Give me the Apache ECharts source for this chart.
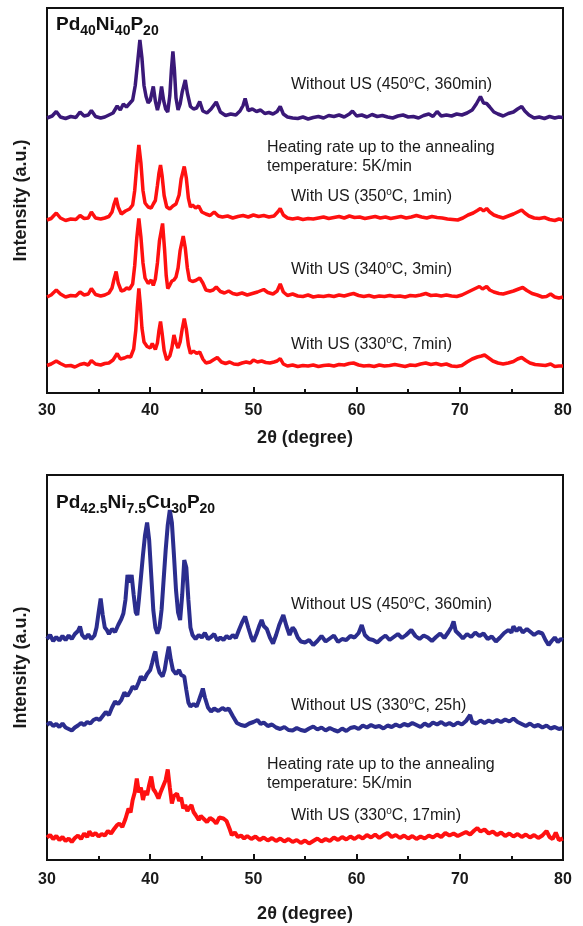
<!DOCTYPE html>
<html>
<head>
<meta charset="utf-8">
<script src="https://cdn.jsdelivr.net/npm/echarts@6/dist/echarts.min.js"></script>
<style>
  html, body { margin: 0; padding: 0; background: #fff; }
  #chart { width: 583px; height: 926px; }
</style>
</head>
<body>
<div id="chart"></div>
<script>
// XRD patterns, 2theta in degree, intensity in a.u. (curves offset as drawn)

// top panel: Pd40Ni40P20
var topNoUS450 = [[30.0,55.0],[30.5,55.4],[30.9,56.3],[31.3,55.2],[31.8,54.9],[32.3,55.3],[32.8,55.1],[33.2,56.2],[33.6,55.4],[34.0,55.6],[34.3,56.5],[34.7,55.3],[35.2,55.0],[35.6,55.2],[36.0,55.6],[36.4,56.0],[36.8,57.4],[37.1,56.6],[37.4,57.8],[37.7,57.2],[38.0,57.9],[38.3,58.6],[38.55,61.5],[38.8,66.5],[39.0,70.6],[39.2,67.0],[39.4,61.5],[39.6,59.3],[39.8,58.0],[40.0,58.5],[40.3,61.3],[40.5,58.4],[40.7,56.6],[40.9,58.2],[41.1,61.3],[41.3,58.5],[41.5,56.8],[41.7,56.2],[41.9,59.5],[42.05,64.5],[42.2,68.3],[42.35,64.5],[42.5,59.0],[42.7,56.6],[42.9,57.8],[43.1,60.2],[43.4,62.6],[43.6,60.0],[43.9,57.3],[44.2,56.8],[44.5,57.0],[44.8,58.3],[45.1,56.4],[45.5,56.0],[45.9,56.8],[46.4,58.2],[46.8,56.2],[47.3,55.5],[47.8,55.8],[48.3,55.6],[48.7,56.4],[49.0,57.5],[49.2,58.9],[49.5,56.5],[49.9,56.8],[50.3,56.3],[50.7,56.6],[51.1,55.9],[51.5,56.1],[51.9,55.8],[52.3,56.3],[52.6,57.3],[52.9,55.8],[53.3,55.2],[53.8,55.0],[54.3,54.9],[54.8,55.2],[55.3,54.8],[55.8,55.1],[56.3,55.3],[56.8,55.0],[57.3,55.5],[57.8,55.3],[58.3,55.6],[58.8,55.2],[59.3,55.8],[59.6,56.4],[60.0,55.4],[60.5,55.6],[61.0,55.2],[61.5,55.7],[62.0,55.3],[62.5,55.5],[63.0,55.2],[63.5,55.0],[64.0,55.4],[64.5,55.6],[65.0,55.2],[65.5,55.3],[66.0,55.0],[66.5,55.5],[67.0,55.8],[67.4,55.3],[67.8,56.3],[68.2,55.4],[68.7,55.6],[69.2,55.4],[69.7,55.8],[70.2,55.6],[70.7,56.0],[71.2,56.6],[71.6,57.8],[72.0,59.3],[72.3,58.0],[72.6,57.9],[72.9,57.2],[73.3,56.2],[73.7,55.8],[74.2,55.4],[74.7,55.9],[75.2,56.2],[75.6,56.8],[76.0,57.3],[76.3,56.4],[76.7,55.6],[77.2,55.0],[77.7,55.2],[78.2,54.9],[78.7,55.3],[79.2,55.0],[79.6,55.2],[80.0,55.1]];

var topUS350 = [[30.0,34.6],[30.4,34.9],[30.9,36.0],[31.3,35.0],[31.8,34.5],[32.3,34.8],[32.8,34.7],[33.2,35.5],[33.6,34.9],[34.0,35.0],[34.3,36.2],[34.7,35.0],[35.2,34.8],[35.6,35.0],[36.0,35.3],[36.3,36.2],[36.5,37.8],[36.7,39.0],[36.9,37.2],[37.2,35.8],[37.6,36.4],[38.0,36.8],[38.3,37.6],[38.5,40.5],[38.7,45.5],[38.9,49.6],[39.1,46.0],[39.3,40.5],[39.5,38.0],[39.8,37.2],[40.1,37.0],[40.3,37.8],[40.5,38.5],[40.7,41.5],[40.85,44.0],[41.0,45.6],[41.15,43.5],[41.35,39.5],[41.6,37.2],[41.9,36.8],[42.2,37.4],[42.5,37.8],[42.8,39.6],[43.0,42.8],[43.3,45.3],[43.5,43.0],[43.7,39.0],[43.9,37.2],[44.1,37.6],[44.4,37.0],[44.7,37.4],[45.0,36.2],[45.4,35.8],[45.8,35.5],[46.2,36.2],[46.6,35.4],[47.0,35.2],[47.5,35.4],[48.0,35.0],[48.5,35.3],[49.0,35.5],[49.5,35.2],[50.0,35.6],[50.5,35.3],[51.0,35.5],[51.5,35.2],[52.0,35.4],[52.4,36.3],[52.6,36.9],[52.9,35.6],[53.3,35.0],[53.8,34.8],[54.3,35.0],[54.8,34.7],[55.3,34.9],[55.8,34.8],[56.3,35.0],[56.8,35.2],[57.3,34.9],[57.8,35.1],[58.3,35.3],[58.8,35.0],[59.3,35.4],[59.8,35.1],[60.3,35.2],[60.8,34.9],[61.3,35.1],[61.8,35.3],[62.3,35.0],[62.8,35.2],[63.3,34.9],[63.8,35.1],[64.3,35.3],[64.8,35.0],[65.3,35.2],[65.8,35.5],[66.3,35.2],[66.8,35.0],[67.3,35.3],[67.8,35.1],[68.3,35.0],[68.8,34.8],[69.3,34.7],[69.8,34.6],[70.3,35.0],[70.8,35.6],[71.3,36.0],[71.7,36.5],[72.0,36.9],[72.3,36.4],[72.6,36.9],[72.9,36.2],[73.3,35.6],[73.7,35.3],[74.2,35.0],[74.7,35.4],[75.2,35.8],[75.6,36.2],[76.0,36.6],[76.3,36.0],[76.7,35.4],[77.2,35.0],[77.7,34.9],[78.2,35.1],[78.7,34.7],[79.2,34.5],[79.6,34.8],[80.0,34.6]];

var topUS340 = [[30.0,19.2],[30.4,19.6],[30.9,20.6],[31.3,19.8],[31.8,19.2],[32.3,19.5],[32.8,19.4],[33.2,20.2],[33.6,19.6],[34.0,19.8],[34.3,20.9],[34.7,19.7],[35.2,19.4],[35.6,19.6],[36.0,20.0],[36.3,21.0],[36.5,22.8],[36.7,24.3],[36.9,22.0],[37.2,20.4],[37.5,20.6],[37.7,21.0],[38.0,20.8],[38.3,21.8],[38.5,25.5],[38.7,31.0],[38.9,34.9],[39.1,31.2],[39.3,26.0],[39.5,23.0],[39.8,21.9],[40.1,22.6],[40.3,21.5],[40.5,22.8],[40.7,26.0],[40.9,30.5],[41.2,33.9],[41.4,28.5],[41.55,23.5],[41.7,20.9],[41.9,21.6],[42.1,22.4],[42.3,22.6],[42.5,23.2],[42.7,25.0],[42.9,28.5],[43.2,31.4],[43.4,29.0],[43.6,25.0],[43.8,22.6],[44.1,22.3],[44.4,22.5],[44.8,23.0],[45.1,22.0],[45.4,20.6],[45.8,20.4],[46.1,20.6],[46.4,21.2],[46.8,20.3],[47.2,20.0],[47.6,20.4],[48.0,19.9],[48.4,19.7],[48.9,20.0],[49.4,19.6],[49.9,19.9],[50.4,20.2],[51.0,20.7],[51.4,20.1],[51.9,19.8],[52.3,20.4],[52.6,21.8],[52.9,20.2],[53.3,19.5],[53.8,19.8],[54.3,19.4],[54.8,19.3],[55.3,19.6],[55.8,19.2],[56.3,19.4],[56.8,19.3],[57.3,19.5],[57.8,19.3],[58.3,19.6],[58.8,19.4],[59.3,19.7],[59.7,19.9],[60.2,19.5],[60.7,19.3],[61.2,19.5],[61.7,19.2],[62.2,19.4],[62.7,19.3],[63.2,19.5],[63.7,19.3],[64.2,19.4],[64.7,19.2],[65.2,19.5],[65.7,19.4],[66.2,19.6],[66.7,19.9],[67.2,19.5],[67.7,19.6],[68.2,19.4],[68.7,19.6],[69.2,19.4],[69.7,19.3],[70.2,19.6],[70.7,20.1],[71.2,20.6],[71.6,21.0],[71.9,21.3],[72.2,20.8],[72.6,21.3],[72.9,20.6],[73.3,20.2],[73.8,19.9],[74.2,19.8],[74.7,20.1],[75.2,20.4],[75.7,20.8],[76.1,21.1],[76.5,20.5],[77.0,19.9],[77.5,19.6],[78.0,19.2],[78.4,19.3],[78.8,19.8],[79.2,19.2],[79.6,19.0],[80.0,19.2]];

var topUS330 = [[30.0,5.5],[30.4,5.8],[30.9,6.4],[31.3,5.9],[31.8,5.4],[32.3,5.5],[32.7,5.2],[33.2,5.7],[33.6,5.9],[34.0,5.6],[34.3,6.5],[34.7,5.8],[35.2,5.6],[35.6,5.9],[36.0,6.0],[36.4,6.6],[36.8,7.9],[37.1,6.8],[37.5,7.0],[37.8,7.3],[38.1,7.2],[38.4,8.8],[38.6,12.5],[38.75,17.0],[38.9,20.9],[39.05,17.5],[39.2,13.0],[39.4,10.2],[39.7,9.3],[40.0,9.0],[40.2,9.9],[40.5,8.7],[40.7,10.0],[40.85,12.5],[41.0,14.3],[41.15,12.0],[41.35,8.5],[41.6,6.6],[41.9,7.4],[42.1,9.0],[42.3,11.6],[42.5,10.0],[42.7,9.0],[42.9,10.2],[43.1,12.8],[43.3,14.9],[43.5,12.8],[43.7,9.6],[43.9,7.9],[44.2,8.4],[44.5,7.9],[44.8,8.2],[45.1,6.8],[45.4,6.0],[45.8,6.2],[46.1,6.6],[46.5,7.1],[46.9,6.2],[47.3,5.9],[47.7,6.2],[48.1,5.8],[48.5,5.7],[48.9,6.0],[49.3,6.2],[49.7,6.0],[50.0,6.6],[50.4,6.2],[50.8,6.4],[51.2,6.1],[51.6,6.0],[52.0,6.2],[52.3,6.4],[52.6,6.9],[52.9,5.8],[53.3,5.4],[53.8,5.6],[54.3,5.3],[54.8,5.5],[55.3,5.4],[55.8,5.6],[56.3,5.3],[56.8,5.5],[57.3,5.6],[57.8,5.4],[58.3,5.7],[58.8,5.6],[59.3,5.9],[59.7,6.0],[60.2,5.6],[60.7,5.4],[61.2,5.5],[61.7,5.3],[62.2,5.6],[62.7,5.4],[63.2,5.5],[63.7,5.7],[64.2,5.5],[64.7,5.3],[65.2,5.6],[65.7,5.5],[66.2,5.8],[66.7,6.0],[67.2,5.7],[67.7,5.9],[68.2,5.6],[68.7,5.8],[69.2,5.4],[69.7,5.3],[70.2,5.5],[70.7,6.2],[71.2,6.8],[71.7,7.2],[72.1,7.4],[72.4,7.6],[72.8,7.0],[73.2,6.4],[73.7,6.0],[74.2,5.8],[74.7,6.0],[75.2,6.3],[75.6,6.8],[76.0,7.1],[76.4,6.5],[76.8,6.0],[77.3,5.7],[77.8,5.6],[78.3,5.5],[78.8,5.8],[79.2,5.3],[79.6,5.4],[80.0,5.4]];

// bottom panel: Pd42.5Ni7.5Cu30P20
var botNoUS450 = [[30.0,44.2],[30.3,45.0],[30.6,43.8],[30.9,44.6],[31.2,43.9],[31.5,44.8],[31.8,44.0],[32.1,44.9],[32.4,44.2],[32.7,45.2],[33.0,45.8],[33.2,46.7],[33.4,45.0],[33.7,44.3],[34.0,45.1],[34.3,44.2],[34.6,44.9],[34.8,46.5],[35.0,49.5],[35.2,52.3],[35.4,49.0],[35.6,46.5],[35.8,46.0],[36.0,45.2],[36.3,46.2],[36.6,45.6],[36.9,47.0],[37.2,48.2],[37.4,49.3],[37.6,52.0],[37.8,57.0],[38.0,55.5],[38.2,57.0],[38.4,53.0],[38.6,49.5],[38.75,49.0],[38.9,52.0],[39.1,56.5],[39.3,61.0],[39.5,65.0],[39.7,67.5],[39.9,64.0],[40.1,57.0],[40.3,50.0],[40.5,46.5],[40.7,45.3],[40.9,46.5],[41.1,50.0],[41.3,56.0],[41.5,62.0],[41.7,67.0],[41.9,70.0],[42.1,67.5],[42.3,61.0],[42.5,54.0],[42.7,49.5],[42.9,48.0],[43.1,53.0],[43.3,60.0],[43.5,58.5],[43.7,52.0],[43.9,46.5],[44.1,45.0],[44.4,44.2],[44.7,45.0],[45.0,44.5],[45.3,45.4],[45.6,44.2],[45.9,44.6],[46.2,45.2],[46.5,43.9],[46.8,44.5],[47.1,44.0],[47.4,44.8],[47.7,44.3],[48.0,45.0],[48.3,44.4],[48.6,46.0],[48.9,47.5],[49.2,48.7],[49.5,46.5],[49.8,44.5],[50.0,43.7],[50.3,45.2],[50.6,47.0],[50.8,48.0],[51.0,46.8],[51.3,46.2],[51.6,44.5],[51.9,43.3],[52.2,45.0],[52.5,47.0],[52.9,49.0],[53.2,46.8],[53.5,45.0],[53.8,46.5],[54.0,46.0],[54.3,44.5],[54.6,43.7],[55.0,43.5],[55.4,44.0],[55.8,43.0],[56.2,43.8],[56.6,44.8],[57.0,43.7],[57.4,44.3],[57.8,44.9],[58.2,43.6],[58.6,44.2],[59.0,44.0],[59.4,44.8],[59.8,44.5],[60.2,45.4],[60.5,47.0],[60.8,45.0],[61.2,44.2],[61.6,44.0],[62.0,43.5],[62.4,44.3],[62.8,44.9],[63.2,44.0],[63.6,44.6],[64.0,45.2],[64.4,44.4],[64.8,45.0],[65.3,46.0],[65.7,44.8],[66.1,44.2],[66.5,44.9],[66.9,44.5],[67.3,43.8],[67.7,44.6],[68.1,45.3],[68.5,44.4],[68.9,45.6],[69.2,46.6],[69.4,47.7],[69.6,45.8],[70.0,45.0],[70.3,44.3],[70.7,45.2],[71.1,44.6],[71.5,45.5],[71.9,44.8],[72.3,45.3],[72.7,44.2],[73.1,44.7],[73.5,43.7],[73.9,44.5],[74.3,45.4],[74.7,46.0],[75.0,45.5],[75.2,46.7],[75.5,45.8],[75.8,46.5],[76.1,45.5],[76.5,46.2],[76.8,45.7],[77.2,45.0],[77.6,45.6],[78.0,45.3],[78.3,44.0],[78.6,43.0],[78.9,43.8],[79.2,44.5],[79.5,43.6],[79.8,44.2],[80.0,44.0]];

var botNoUS330 = [[30.0,27.0],[30.3,27.5],[30.6,26.8],[30.9,27.2],[31.2,26.6],[31.5,27.3],[31.8,26.5],[32.1,26.2],[32.4,25.9],[32.7,26.5],[33.0,26.9],[33.3,27.4],[33.6,27.0],[33.9,27.6],[34.2,27.3],[34.5,28.0],[34.8,28.3],[35.1,28.0],[35.4,28.8],[35.7,29.6],[36.0,29.0],[36.3,30.5],[36.6,31.7],[36.9,31.2],[37.2,32.0],[37.5,33.5],[37.8,32.8],[38.1,33.8],[38.3,34.7],[38.6,34.2],[38.9,35.6],[39.1,36.7],[39.4,36.0],[39.7,37.2],[40.0,38.0],[40.2,39.5],[40.4,41.2],[40.5,41.7],[40.7,39.0],[40.9,37.5],[41.2,36.7],[41.4,38.0],[41.6,40.5],[41.8,42.7],[42.0,40.0],[42.2,38.0],[42.5,37.2],[42.8,38.0],[43.0,37.0],[43.3,36.7],[43.5,34.0],[43.7,31.5],[43.9,30.7],[44.2,31.2],[44.5,30.7],[44.7,31.8],[44.9,33.0],[45.1,34.3],[45.3,32.5],[45.6,30.5],[45.9,29.7],[46.2,30.3],[46.6,29.8],[47.0,30.4],[47.3,30.0],[47.6,30.3],[48.0,28.8],[48.4,27.4],[48.8,27.0],[49.2,26.8],[49.6,27.3],[50.0,27.6],[50.4,28.0],[50.7,27.2],[51.0,27.5],[51.4,26.8],[51.8,27.1],[52.2,26.5],[52.6,26.2],[53.0,26.6],[53.4,26.0],[53.8,25.9],[54.2,26.4],[54.6,26.0],[55.0,25.8],[55.4,26.3],[55.8,26.7],[56.2,26.1],[56.6,26.5],[57.0,25.9],[57.4,26.4],[57.8,26.0],[58.2,25.7],[58.6,26.3],[59.0,25.8],[59.4,26.4],[59.8,26.6],[60.2,26.2],[60.6,26.9],[61.0,26.5],[61.4,27.0],[61.8,26.6],[62.2,26.8],[62.6,26.3],[63.0,26.9],[63.4,26.6],[63.8,27.1],[64.2,26.7],[64.6,27.2],[65.0,26.9],[65.4,27.4],[65.8,27.0],[66.2,26.6],[66.6,27.3],[67.0,26.8],[67.4,27.5],[67.8,27.1],[68.2,27.6],[68.6,27.0],[69.0,27.4],[69.4,26.9],[69.8,27.5],[70.2,27.1],[70.6,27.8],[71.0,29.0],[71.2,27.6],[71.6,27.3],[72.0,27.9],[72.4,27.4],[72.8,27.9],[73.2,27.5],[73.6,28.0],[74.0,27.6],[74.4,28.1],[74.8,27.7],[75.2,28.3],[75.6,27.6],[76.0,27.2],[76.4,26.8],[76.8,27.3],[77.2,26.7],[77.6,27.0],[78.0,26.5],[78.4,26.9],[78.8,26.3],[79.2,26.6],[79.6,26.2],[80.0,26.4]];

var botUS330 = [[30.0,4.5],[30.3,5.0],[30.6,4.2],[30.9,4.8],[31.2,4.0],[31.5,4.6],[31.8,3.8],[32.1,4.3],[32.4,3.6],[32.7,4.4],[33.0,4.9],[33.3,4.2],[33.6,5.3],[33.9,4.6],[34.1,5.7],[34.4,4.9],[34.7,5.4],[35.0,4.7],[35.3,5.2],[35.6,4.9],[35.9,5.8],[36.2,5.3],[36.5,6.2],[36.8,7.0],[37.0,7.3],[37.3,6.6],[37.6,8.2],[37.9,10.3],[38.1,9.5],[38.3,12.0],[38.5,13.5],[38.7,16.3],[38.9,13.5],[39.1,14.5],[39.3,12.0],[39.5,13.8],[39.7,13.0],[39.9,15.0],[40.1,16.7],[40.3,14.2],[40.5,13.6],[40.8,12.3],[41.0,13.5],[41.3,15.0],[41.5,16.0],[41.7,18.1],[41.9,14.5],[42.1,11.3],[42.3,12.8],[42.6,13.3],[42.8,11.8],[43.0,12.5],[43.2,10.3],[43.4,11.0],[43.6,9.8],[43.8,10.5],[44.0,11.0],[44.2,9.6],[44.4,9.0],[44.7,8.0],[44.9,8.8],[45.2,8.2],[45.5,7.6],[45.8,8.4],[46.1,8.0],[46.4,7.3],[46.7,8.5],[47.1,8.3],[47.4,7.8],[47.7,6.2],[47.9,5.0],[48.2,5.5],[48.5,4.6],[48.8,4.9],[49.1,4.3],[49.4,4.8],[49.8,4.2],[50.2,4.7],[50.6,4.0],[51.0,4.5],[51.4,3.9],[51.8,4.4],[52.2,3.8],[52.6,4.3],[53.0,3.7],[53.4,4.2],[53.8,3.6],[54.2,4.0],[54.6,3.4],[55.0,3.9],[55.4,3.3],[55.8,3.8],[56.2,4.3],[56.6,3.7],[57.0,4.2],[57.4,3.8],[57.8,4.5],[58.2,4.0],[58.6,4.6],[59.0,4.1],[59.4,4.7],[59.8,4.2],[60.2,4.8],[60.6,4.3],[61.0,5.0],[61.4,4.5],[61.8,5.1],[62.2,4.4],[62.6,5.0],[63.0,5.4],[63.4,4.6],[63.8,5.0],[64.2,4.4],[64.6,4.9],[65.0,4.3],[65.4,4.8],[65.8,4.2],[66.2,4.7],[66.6,4.3],[67.0,4.9],[67.4,4.5],[67.8,5.1],[68.2,4.6],[68.6,5.4],[69.0,4.9],[69.4,5.3],[69.8,4.8],[70.2,5.2],[70.6,5.6],[71.0,5.1],[71.4,5.9],[71.7,6.4],[72.0,5.7],[72.4,6.1],[72.8,5.3],[73.2,5.7],[73.6,5.0],[74.0,5.5],[74.4,4.8],[74.8,5.3],[75.2,4.7],[75.6,5.2],[76.0,4.6],[76.4,5.1],[76.8,4.5],[77.2,5.0],[77.6,4.4],[78.0,4.9],[78.4,5.8],[78.7,4.6],[79.0,4.2],[79.3,5.5],[79.6,4.0],[80.0,4.3]];

var xTicks = [30, 40, 50, 60, 70, 80];

var FONT = "'Liberation Sans', Arial, sans-serif";
var PURPLE = '#3a1878';
var RED = '#ff1010';
var BLUE = '#2b2d8e';

var dom = document.getElementById('chart');
var myChart = echarts.init(dom, null, { renderer: 'canvas' });

function xAxisFor(gridIndex, margin, gap) {
  return {
    gridIndex: gridIndex,
    type: 'value',
    min: xTicks[0],
    max: xTicks[xTicks.length - 1],
    interval: 10,
    name: '2\u03b8 (degree)',
    nameLocation: 'middle',
    nameGap: gap,
    nameTextStyle: { fontFamily: FONT, fontSize: 18, fontWeight: 'bold', color: '#1a1a1a' },
    axisLine: { lineStyle: { color: '#111', width: 2 } },
    axisTick: { inside: true, length: 6, lineStyle: { color: '#111', width: 2 } },
    minorTick: { show: true, splitNumber: 2, length: 4, lineStyle: { color: '#111', width: 2 } },
    axisLabel: { margin: margin, fontFamily: FONT, fontSize: 16, fontWeight: 'bold', color: '#1a1a1a' },
    splitLine: { show: false }
  };
}

function yAxisFor(gridIndex) {
  return {
    gridIndex: gridIndex,
    type: 'value',
    min: 0,
    max: 77,
    name: 'Intensity (a.u.)',
    nameLocation: 'middle',
    nameGap: 17,
    nameTextStyle: { fontFamily: FONT, fontSize: 18, fontWeight: 'bold', color: '#1a1a1a' },
    axisLine: { show: true, lineStyle: { color: '#111', width: 2 } },
    axisTick: { show: false },
    axisLabel: { show: false },
    splitLine: { show: false }
  };
}

function curve(data, color, width, xi) {
  return {
    type: 'line',
    data: data,
    xAxisIndex: xi,
    yAxisIndex: xi,
    showSymbol: false,
    silent: true,
    lineStyle: { color: color, width: width },
    z: 2
  };
}

var labelRich = {
  sup: { fontFamily: FONT, fontSize: 10, verticalAlign: 'top', lineHeight: 19 }
};
var titleRich = {
  sub: { fontFamily: FONT, fontSize: 14, fontWeight: 'bold', verticalAlign: 'bottom', lineHeight: 14 }
};

function note(x, y, text) {
  return {
    type: 'text', left: x, top: y, z: 10,
    style: { text: text, font: '16px ' + FONT, fill: '#1a1a1a', rich: labelRich, lineHeight: 19 }
  };
}
function composition(x, y, text) {
  return {
    type: 'text', left: x, top: y, z: 10,
    style: { text: text, font: 'bold 19px ' + FONT, fill: '#111', rich: titleRich, lineHeight: 26 }
  };
}

var option = {
  animation: false,
  backgroundColor: '#fff',
  grid: [
    { left: 47, top: 8, width: 516, height: 385, show: true, borderColor: '#111', borderWidth: 2 },
    { left: 47, top: 475, width: 516, height: 385, show: true, borderColor: '#111', borderWidth: 2 }
  ],
  xAxis: [xAxisFor(0, 10, 36), xAxisFor(1, 12, 45)],
  yAxis: [yAxisFor(0), yAxisFor(1)],
  series: [
    curve(topNoUS450, PURPLE, 3.5, 0),
    curve(topUS350, RED, 3.5, 0),
    curve(topUS340, RED, 3.5, 0),
    curve(topUS330, RED, 3.5, 0),
    curve(botNoUS450, BLUE, 4, 1),
    curve(botNoUS330, BLUE, 4, 1),
    curve(botUS330, RED, 4, 1)
  ],
  graphic: [
    composition(56, 12, 'Pd{sub|40}Ni{sub|40}P{sub|20}'),
    note(291, 75, 'Without US (450{sup|o}C, 360min)'),
    note(267, 138, 'Heating rate up to the annealing'),
    note(267, 157, 'temperature: 5K/min'),
    note(291, 187, 'With US (350{sup|o}C, 1min)'),
    note(291, 260, 'With US (340{sup|o}C, 3min)'),
    note(291, 335, 'With US (330{sup|o}C, 7min)'),

    composition(56, 490, 'Pd{sub|42.5}Ni{sub|7.5}Cu{sub|30}P{sub|20}'),
    note(291, 595, 'Without US (450{sup|o}C, 360min)'),
    note(291, 696, 'Without US (330{sup|o}C, 25h)'),
    note(267, 755, 'Heating rate up to the annealing'),
    note(267, 774, 'temperature: 5K/min'),
    note(291, 806, 'With US (330{sup|o}C, 17min)')
  ]
};

myChart.setOption(option);
window.addEventListener('resize', myChart.resize);
</script>
</body>
</html>
